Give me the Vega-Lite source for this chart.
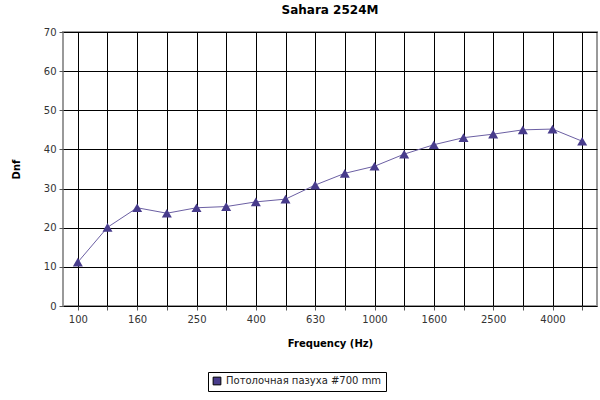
{
  "$schema": "https://vega.github.io/schema/vega-lite/v6.json",
  "width": 534,
  "height": 274,
  "autosize": {"type": "none"},
  "padding": {"left": 63, "top": 32, "right": 3, "bottom": 94},
  "background": "white",
  "title": {
    "text": "Sahara 2524M",
    "font": "DejaVu Sans",
    "fontSize": 12,
    "fontWeight": "bold",
    "color": "black",
    "offset": 10
  },
  "config": {
    "view": {"stroke": "#999999", "strokeWidth": 2},
    "axis": {
      "labelFont": "DejaVu Sans",
      "labelFontSize": 10,
      "labelColor": "#333333",
      "titleFont": "DejaVu Sans",
      "titleFontSize": 10,
      "titleFontWeight": "bold",
      "titleColor": "black",
      "gridColor": "black",
      "gridOpacity": 1,
      "gridWidth": 1,
      "tickColor": "#555555",
      "domain": false
    }
  },
  "data": {
    "values": [
      {"freq": "100", "dnf": 11.2},
      {"freq": "125", "dnf": 20.1},
      {"freq": "160", "dnf": 25.1},
      {"freq": "200", "dnf": 23.7},
      {"freq": "250", "dnf": 25.1},
      {"freq": "315", "dnf": 25.4},
      {"freq": "400", "dnf": 26.6},
      {"freq": "500", "dnf": 27.3},
      {"freq": "630", "dnf": 30.9},
      {"freq": "800", "dnf": 33.9},
      {"freq": "1000", "dnf": 35.7},
      {"freq": "1250", "dnf": 38.8},
      {"freq": "1600", "dnf": 41.2},
      {"freq": "2000", "dnf": 43.0},
      {"freq": "2500", "dnf": 43.9},
      {"freq": "3150", "dnf": 45.0},
      {"freq": "4000", "dnf": 45.2},
      {"freq": "5000", "dnf": 42.1}
    ]
  },
  "transform": [{"calculate": "'Потолочная пазуха #700 mm'", "as": "series"}],
  "encoding": {
    "x": {
      "field": "freq",
      "type": "ordinal",
      "sort": null,
      "scale": {"type": "point", "padding": 0.5},
      "axis": {
        "title": "Frequency (Hz)",
        "titlePadding": 14,
        "labelAngle": 0,
        "grid": true,
        "tickSize": 4,
        "labelPadding": 4,
        "labelExpr": "indexof(['100','160','250','400','630','1000','1600','2500','4000'], datum.label) >= 0 ? datum.label : ''"
      }
    },
    "y": {
      "field": "dnf",
      "type": "quantitative",
      "scale": {"domain": [0, 70]},
      "axis": {
        "title": "Dnf",
        "values": [0, 10, 20, 30, 40, 50, 60, 70],
        "grid": true,
        "tickSize": 4,
        "labelPadding": 3,
        "titlePadding": 22
      }
    }
  },
  "layer": [
    {
      "mark": {"type": "line", "color": "#6B5FA3", "strokeWidth": 1}
    },
    {
      "mark": {"type": "point", "shape": "triangle-up", "filled": true, "size": 100, "opacity": 1},
      "encoding": {
        "color": {
          "field": "series",
          "type": "nominal",
          "scale": {"range": ["#483C8C"]},
          "legend": {
            "title": null,
            "orient": "none",
            "legendX": 145,
            "legendY": 340,
            "symbolType": "square",
            "symbolSize": 60,
            "symbolStrokeColor": "black",
            "symbolStrokeWidth": 1,
            "labelFont": "DejaVu Sans",
            "labelFontSize": 10,
            "labelColor": "#222222",
            "strokeColor": "black",
            "padding": 4
          }
        }
      }
    }
  ]
}
